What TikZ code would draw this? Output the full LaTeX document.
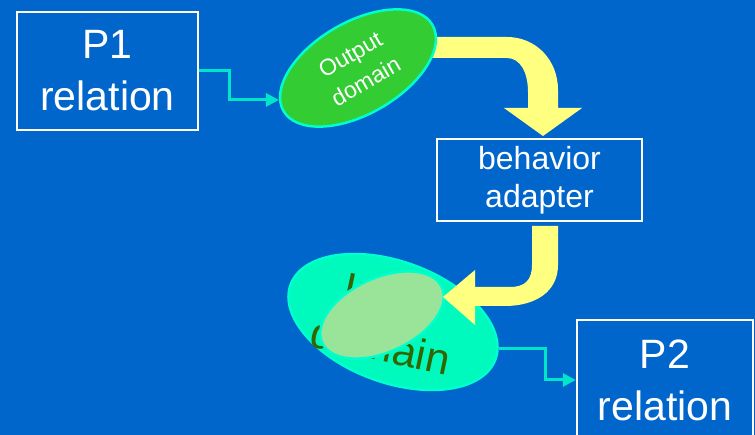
\documentclass[tikz,border=0pt]{standalone}
\usepackage{fontspec}
\setmainfont{Liberation Sans}
\usetikzlibrary{shapes.geometric,arrows.meta}
\definecolor{bgblue}{RGB}{0,102,204}
\definecolor{domgreen}{RGB}{51,204,51}
\definecolor{aqua}{RGB}{0,255,204}
\definecolor{mint}{RGB}{0,250,190}
\definecolor{pale}{RGB}{153,228,153}
\definecolor{olive}{RGB}{51,102,0}
\definecolor{lemon}{RGB}{255,255,128}
\definecolor{linkcol}{RGB}{0,230,200}

\begin{document}
\begin{tikzpicture}[x=1pt, y=-1pt, box node/.style={rectangle, draw=white, line width=2.5pt, text=white, align=center, inner sep=0pt}, dom node/.style={ellipse, draw=aqua, line width=2.5pt, align=center, inner sep=0pt}, link/.style={line width=3pt, linkcol, -{Triangle[length=13pt,width=13pt]}}, block/.style={fill=lemon}]

			\clip (0,0) rectangle (755,435);
			\fill[bgblue] (0,0) rectangle (755,435);

			% upper block arrow, its root hidden under the ellipse
			\fill[block] (430,37) -- (507,37) .. controls (536,37) and (558,60) .. (558,90) -- (558,108) -- (582,108) -- (543,136) -- (504,108) -- (528,108) -- (528,92) .. controls (528,72) and (520,58) .. (507,58) -- (430,58) -- cycle;

			\node[box node, minimum width=181pt, minimum height=118pt, font=\fontsize{41}{52}\selectfont] (1) at (107.5,71) {P1\\relation};
			\node[dom node, fill=domgreen, text=white, minimum width=172pt, minimum height=92pt, rotate=30, font=\fontsize{23}{31}\selectfont] (2) at (358,68) {Output\\domain};
			\node[box node, minimum width=205pt, minimum height=82pt, font=\fontsize{32}{38}\selectfont] (3) at (539.5,180) {behavior\\adapter};

			% input domain, its label mostly hidden by the pale ellipse
			\node[dom node, fill=mint, minimum width=218pt, minimum height=121pt, rotate=-20] (4) at (393,322) {};
			\node[text=olive, align=center, rotate=-12, inner sep=0pt, font=\fontsize{43}{50}\selectfont] (4l) at (386,322) {Input\\domain};
			\node[dom node, fill=pale, minimum width=132pt, minimum height=74pt, rotate=25] (5) at (382,315) {};

			% lower block arrow
			\fill[block] (532,226) -- (558,226) -- (558,265) .. controls (558,292) and (535,306) .. (505,306) -- (475,306) -- (475,325) -- (443,297) -- (475,270) -- (475,287) -- (510,287) .. controls (525,287) and (532,280) .. (532,265) -- cycle;

			\node[box node, minimum width=176pt, minimum height=120pt, font=\fontsize{41}{52}\selectfont] (6) at (665,380) {P2\\relation};

			% thin connectors
			\draw[link] (1.east) -- ++(30,0) |- (2.172);
			\draw[link] (4.6) -- ++(47,0) |- (6.west);

		\end{tikzpicture}
\end{document}
